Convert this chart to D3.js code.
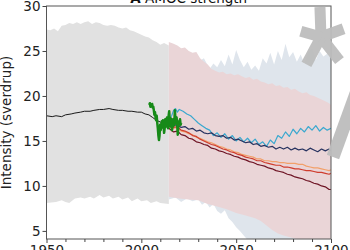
<!DOCTYPE html>
<html><head><meta charset="utf-8">
<script src="https://cdn.jsdelivr.net/npm/d3@7"></script>
<style>html,body{margin:0;padding:0;background:#fff;overflow:hidden}svg{display:block;font-family:"DejaVu Sans",sans-serif}</style>
</head><body>
<script>
// ---- data ----
const histUpper = [[1950,27.4],[1952,27.3],[1954,27.5],[1956,27.2],[1958,27.8],[1960,27.9],[1962,28.1],[1964,28.0],[1966,28.2],[1968,28.0],[1970,28.2],[1972,28.3],[1974,28.0],[1976,28.2],[1978,28.1],[1980,27.9],[1982,27.8],[1984,27.9],[1986,27.8],[1988,27.6],[1990,27.5],[1992,27.6],[1994,27.3],[1996,27.2],[1998,27.0],[2000,26.8],[2002,26.6],[2004,26.5],[2006,26.2],[2008,26.0],[2010,25.7],[2012,25.9],[2014.5,25.6]];
const histLower = [[1950,8.1],[1955,8.2],[1958,8.4],[1960,8.2],[1962,8.1],[1965,8.6],[1968,8.7],[1970,8.6],[1973,8.8],[1975,8.6],[1978,9.0],[1980,8.7],[1983,8.9],[1985,8.6],[1988,8.8],[1990,8.5],[1993,8.7],[1995,8.3],[1998,8.6],[2000,8.3],[2003,8.4],[2005,8.1],[2008,8.3],[2010,8.1],[2014.5,8.0]];
const lowUpper = [[2014.5,25.5],[2020,25.0],[2025,24.5],[2030,23.8],[2033,24.2],[2036,23.0],[2038,23.6],[2040,23.2],[2042,24.0],[2044,23.3],[2046,24.6],[2048,23.5],[2050,25.1],[2052,24.0],[2054,23.2],[2056,23.8],[2058,22.9],[2060,23.4],[2062,22.8],[2064,24.2],[2066,23.6],[2068,24.8],[2070,23.5],[2072,25.0],[2074,24.0],[2076,25.8],[2078,24.3],[2080,24.9],[2082,23.8],[2084,24.6],[2086,23.6],[2088,24.8],[2090,25.3],[2092,24.0],[2094,25.0],[2096,24.4],[2098,24.7],[2100,24.2]];
const lowLower = [[2014.5,8.5],[2018,8.7],[2021,8.2],[2024,8.6],[2027,8.3],[2030,8.5],[2032,7.9],[2034,8.2],[2036,7.6],[2038,8.0],[2040,7.2],[2042,6.9],[2044,7.3],[2046,6.4],[2048,6.0],[2050,5.4],[2052,5.0],[2054,4.5],[2056,4.0],[2060,3.8],[2070,3.5],[2080,3.6],[2090,3.8],[2100,3.9]];
const highUpper = [[2014.5,26.0],[2017,25.8],[2019,25.6],[2021,25.3],[2023,25.4],[2025,25.0],[2027,24.8],[2029,24.9],[2031,24.2],[2033,23.8],[2035,23.5],[2037,23.0],[2039,22.8],[2041,22.6],[2043,22.7],[2045,22.4],[2047,22.5],[2049,22.3],[2051,22.4],[2053,22.2],[2055,22.0],[2057,22.1],[2059,21.8],[2061,21.9],[2063,21.6],[2065,21.5],[2067,21.3],[2069,21.4],[2071,21.1],[2073,21.2],[2075,20.9],[2077,21.0],[2079,20.7],[2081,20.8],[2083,20.5],[2085,20.3],[2087,20.4],[2089,20.1],[2091,20.0],[2093,19.8],[2095,19.6],[2097,19.4],[2099,19.2],[2100,19.0]];
const highLower = [[2014.5,8.8],[2020,8.6],[2025,8.5],[2030,8.4],[2035,8.0],[2040,7.7],[2045,7.4],[2050,7.0],[2055,6.7],[2060,6.4],[2063,6.1],[2066,5.6],[2069,5.1],[2072,4.7],[2075,4.5],[2080,4.2],[2085,3.9],[2090,4.0],[2095,3.8],[2100,3.7]];
const historical = [[1950,17.8],[1953,17.7],[1955,17.8],[1958,17.7],[1960,17.9],[1963,18.0],[1965,18.1],[1968,18.2],[1970,18.3],[1973,18.3],[1975,18.4],[1978,18.5],[1980,18.5],[1983,18.6],[1985,18.5],[1988,18.4],[1990,18.4],[1993,18.3],[1995,18.3],[1998,18.2],[2000,18.2],[2002,18.0],[2004,17.9],[2006,17.6],[2008,17.3],[2010,17.1],[2012,16.9],[2014.5,16.8]];
const rapid = [[2004.2,19.0],[2004.5,19.2],[2004.8,18.8],[2005.1,19.0],[2005.4,18.9],[2005.7,19.1],[2006.0,18.7],[2006.3,18.8],[2006.6,18.4],[2006.9,17.9],[2007.2,18.2],[2007.5,17.6],[2007.8,17.3],[2008.1,17.8],[2008.4,17.0],[2008.7,16.4],[2009.0,15.6],[2009.3,15.1],[2009.6,15.6],[2009.9,16.8],[2010.2,16.2],[2010.5,16.6],[2010.8,17.2],[2011.1,16.5],[2011.4,17.3],[2011.7,16.9],[2012.0,15.9],[2012.3,16.4],[2012.6,17.4],[2012.9,17.0],[2013.2,16.6],[2013.5,17.6],[2013.8,17.2],[2014.1,16.4],[2014.4,17.8],[2014.7,18.3],[2015.0,17.2],[2015.3,16.6],[2015.6,17.5],[2015.9,17.0],[2016.2,16.2],[2016.5,16.8],[2016.8,17.4],[2017.1,16.7],[2017.4,17.1],[2017.7,18.4],[2018.0,17.3],[2018.3,16.9],[2018.6,17.6],[2018.9,16.8],[2019.2,15.7],[2019.5,16.6],[2019.8,17.2],[2020.1,16.9],[2020.4,17.4],[2020.7,16.8],[2021.0,17.0]];
const ssp119 = [[2014.5,17.3],[2016,17.8],[2017,18.4],[2018,18.6],[2019,18.2],[2020,18.5],[2022,18.3],[2024,18.0],[2026,17.8],[2028,17.4],[2030,17.0],[2032,16.7],[2034,16.4],[2036,16.2],[2038,15.6],[2040,15.9],[2042,15.4],[2044,15.8],[2046,15.2],[2048,15.6],[2050,15.0],[2052,15.4],[2054,14.9],[2056,15.3],[2058,14.8],[2060,15.2],[2062,14.6],[2064,14.9],[2066,14.4],[2068,15.1],[2070,14.7],[2072,15.6],[2074,15.3],[2076,16.0],[2078,15.5],[2080,16.3],[2082,15.8],[2084,16.4],[2086,16.0],[2088,16.6],[2090,16.2],[2092,16.7],[2094,16.1],[2096,16.5],[2098,16.2],[2100,16.4]];
const ssp126 = [[2014.5,16.9],[2017,16.7],[2019,16.8],[2021,16.5],[2023,16.6],[2025,16.3],[2027,16.4],[2029,16.1],[2031,16.2],[2033,15.9],[2035,15.8],[2037,15.9],[2039,15.6],[2041,15.5],[2043,15.6],[2045,15.3],[2047,15.4],[2049,15.1],[2051,15.2],[2053,15.0],[2055,14.8],[2057,14.9],[2059,14.6],[2061,14.7],[2063,14.4],[2065,14.5],[2067,14.3],[2069,14.4],[2071,14.1],[2073,14.3],[2075,14.1],[2077,14.3],[2079,14.0],[2081,14.2],[2083,14.0],[2085,14.1],[2087,13.9],[2089,14.2],[2091,14.0],[2093,13.8],[2095,14.1],[2097,13.9],[2099,14.1],[2100,13.9]];
const ssp245 = [[2014.5,16.6],[2017,16.4],[2019,16.5],[2021,16.1],[2023,16.0],[2025,15.8],[2027,15.7],[2029,15.4],[2031,15.3],[2033,15.1],[2035,14.9],[2037,14.8],[2039,14.6],[2041,14.4],[2043,14.3],[2045,14.1],[2047,14.0],[2049,13.8],[2051,13.7],[2053,13.5],[2055,13.4],[2057,13.3],[2059,13.2],[2061,13.0],[2063,13.0],[2065,12.8],[2067,12.8],[2069,12.7],[2071,12.7],[2073,12.6],[2075,12.6],[2077,12.5],[2079,12.5],[2081,12.5],[2083,12.4],[2085,12.4],[2087,12.2],[2089,12.1],[2091,12.0],[2093,12.0],[2095,11.9],[2097,11.8],[2099,11.7],[2100,11.8]];
const ssp370 = [[2014.5,16.8],[2017,16.5],[2019,16.6],[2021,16.2],[2023,16.1],[2025,15.9],[2027,15.6],[2029,15.5],[2031,15.2],[2033,15.0],[2035,14.8],[2037,14.6],[2039,14.5],[2041,14.3],[2043,14.1],[2045,14.0],[2047,13.8],[2049,13.7],[2051,13.5],[2053,13.4],[2055,13.2],[2057,13.1],[2059,13.0],[2061,12.8],[2063,12.8],[2065,12.6],[2067,12.5],[2069,12.4],[2071,12.3],[2073,12.3],[2075,12.1],[2077,12.1],[2079,12.0],[2081,11.9],[2083,11.9],[2085,11.8],[2087,11.7],[2089,11.7],[2091,11.6],[2093,11.5],[2095,11.5],[2097,11.4],[2099,11.3],[2100,11.4]];
const ssp585 = [[2014.5,16.4],[2017,16.0],[2019,16.1],[2021,15.7],[2023,15.6],[2025,15.3],[2027,15.2],[2029,14.9],[2031,14.8],[2033,14.6],[2035,14.5],[2037,14.2],[2039,14.1],[2041,13.9],[2043,13.8],[2045,13.6],[2047,13.5],[2049,13.3],[2051,13.2],[2053,13.0],[2055,12.9],[2057,12.7],[2059,12.6],[2061,12.4],[2063,12.3],[2065,12.2],[2067,12.0],[2069,11.9],[2071,11.7],[2073,11.6],[2075,11.5],[2077,11.3],[2079,11.2],[2081,11.0],[2083,10.9],[2085,10.8],[2087,10.6],[2089,10.5],[2091,10.3],[2093,10.2],[2095,10.0],[2097,9.9],[2099,9.6],[2100,9.6]];
const xMajorTicks = [1950, 2000, 2050, 2100];
const xMinorTicks = [1960,1970,1980,1990,2010,2020,2030,2040,2060,2070,2080,2090];
const yTicks = [5, 10, 15, 20, 25, 30];
const titleBold = "A";
const titleText = " AMOC strength";
const yLabel = "Intensity (sverdrup)";

// ---- layout ----
const W = 350, H = 250;
const m = {l: 46.5, r: 331, t: 6, b: 239};
const x = d3.scaleLinear().domain([1950, 2100]).range([m.l, m.r]);
const y = d3.scaleLinear().domain([4.1, 30]).range([m.b, m.t]);

const svg = d3.select("body").append("svg").attr("width", W).attr("height", H);

svg.append("clipPath").attr("id", "clip").append("rect")
  .attr("x", m.l).attr("y", m.t).attr("width", m.r - m.l).attr("height", m.b - m.t);
const g = svg.append("g").attr("clip-path", "url(#clip)");

const lineGen = d3.line().x(d => x(d[0])).y(d => y(d[1]));
function band(upper, lower, fill) {
  const pts = upper.concat(lower.slice().reverse());
  g.append("path").attr("d", lineGen(pts) + "Z").attr("fill", fill).attr("stroke", "none");
}
band(histUpper, histLower, "#e1e1e1");
band(lowUpper, lowLower, "#dfe5ec");
band(highUpper, highLower, "#ead5d7");

function line(data, color, w) {
  g.append("path").datum(data).attr("d", lineGen).attr("fill", "none")
    .attr("stroke", color).attr("stroke-width", w).attr("stroke-linejoin", "round");
}
line(historical, "#1a1a1a", 1);
line(ssp119, "#3aa8cf", 1.2);
line(ssp126, "#27325f", 1.2);
line(ssp245, "#f2a06a", 1.2);
line(ssp370, "#cf3d2e", 1.2);
line(ssp585, "#6e1424", 1.2);
line(rapid, "#168a18", 2.5);

// frame
svg.append("rect").attr("x", m.l).attr("y", m.t).attr("width", m.r - m.l).attr("height", m.b - m.t)
  .attr("fill", "none").attr("stroke", "#555").attr("stroke-width", 1);

// axes
const xAx = svg.append("g").attr("transform", `translate(0,${m.b})`)
  .call(d3.axisBottom(x).tickValues(xMajorTicks).tickFormat(d3.format("d")).tickSize(4).tickPadding(2));
const xMin = svg.append("g").attr("transform", `translate(0,${m.b})`)
  .call(d3.axisBottom(x).tickValues(xMinorTicks).tickFormat("").tickSize(3));
const yAx = svg.append("g").attr("transform", `translate(${m.l},0)`)
  .call(d3.axisLeft(y).tickValues(yTicks).tickSize(4).tickPadding(2));
[xAx, xMin, yAx].forEach(a => {
  a.select(".domain").remove();
  a.selectAll("line").attr("stroke", "#444");
  a.selectAll("text").attr("fill", "#222").attr("font-size", 13.5).attr("font-family", "DejaVu Sans");
});

// title
svg.append("text").attr("x", (m.l + m.r) / 2).attr("y", 3).attr("text-anchor", "middle")
  .attr("font-size", 13.5).attr("fill", "#111")
  .call(t => { t.append("tspan").attr("font-weight", "bold").text(titleBold); t.append("tspan").text(titleText); });

// y label
svg.append("text").attr("transform", `translate(11,${(m.t + m.b) / 2}) rotate(-90)`)
  .attr("text-anchor", "middle").attr("font-size", 13.5).attr("fill", "#222").text(yLabel);

// watermark (decorative, on top)
const wm = svg.append("g").attr("stroke", "#bdbdbd").attr("stroke-width", 11).attr("fill", "none").attr("opacity", 0.95);
const cx = 321, cy = 37;
[[-92, 30], [-20, 24], [52, 30], [118, 31], [196, 21]].forEach(([a, L]) => {
  const r = a * Math.PI / 180;
  wm.append("line").attr("x1", cx).attr("y1", cy).attr("x2", cx + L * Math.cos(r)).attr("y2", cy + L * Math.sin(r));
});
wm.append("line").attr("x1", 358).attr("y1", 88).attr("x2", 333).attr("y2", 157).attr("stroke-width", 13);
</script>
</body></html>
